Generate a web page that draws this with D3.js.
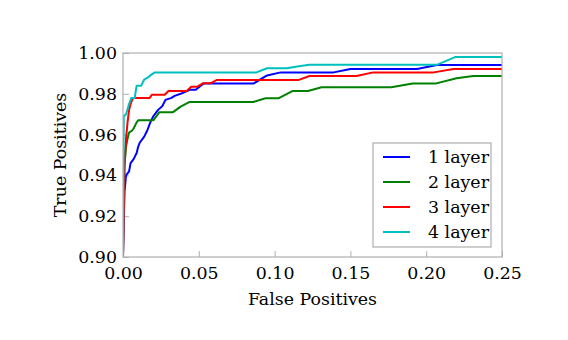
<!DOCTYPE html>
<html>
<head>
<meta charset="utf-8">
<script src="https://cdn.jsdelivr.net/npm/d3@7"></script>
<style>
  body { margin: 0; background: #fff; }
  svg text { font-family: "DejaVu Serif", serif; fill: #000; }
</style>
</head>
<body>
<div id="chart"></div>
<script>
// ROC curves, [false positive rate, true positive rate]
const layer1 = [
  [0, 0.90], [0.001, 0.932], [0.002, 0.940], [0.004, 0.942], [0.005, 0.946], [0.007, 0.948],
  [0.009, 0.951], [0.010, 0.954], [0.011, 0.956], [0.014, 0.959], [0.016, 0.962],
  [0.018, 0.966], [0.020, 0.969], [0.023, 0.972], [0.026, 0.974], [0.028, 0.977],
  [0.032, 0.978], [0.034, 0.979], [0.038, 0.980], [0.044, 0.982], [0.048, 0.982],
  [0.053, 0.985], [0.086, 0.985], [0.095, 0.989], [0.104, 0.9905], [0.139, 0.9905],
  [0.150, 0.9922], [0.194, 0.9922], [0.207, 0.9941], [0.25, 0.9941]
];
const layer2 = [
  [0, 0.90], [0.0005, 0.930], [0.001, 0.945], [0.002, 0.954], [0.003, 0.958],
  [0.004, 0.961], [0.006, 0.962], [0.007, 0.963], [0.009, 0.966], [0.010, 0.967],
  [0.020, 0.967], [0.024, 0.971], [0.033, 0.971], [0.038, 0.9737], [0.044, 0.976],
  [0.086, 0.976], [0.094, 0.9778], [0.1025, 0.9778], [0.112, 0.9814], [0.122, 0.9814],
  [0.131, 0.9832], [0.177, 0.9832], [0.191, 0.985], [0.206, 0.985], [0.220, 0.9876],
  [0.231, 0.9887], [0.25, 0.9887]
];
const layer3 = [
  [0, 0.90], [0.001, 0.945], [0.002, 0.958], [0.003, 0.966], [0.004, 0.972],
  [0.005, 0.975], [0.0066, 0.978], [0.0176, 0.978], [0.019, 0.9795], [0.0275, 0.9795],
  [0.030, 0.9814], [0.042, 0.9814], [0.045, 0.9835], [0.049, 0.9835], [0.053, 0.9852],
  [0.058, 0.9852], [0.062, 0.9868], [0.116, 0.9868], [0.123, 0.9887], [0.154, 0.9887],
  [0.165, 0.9905], [0.205, 0.9905], [0.218, 0.9922], [0.25, 0.9922]
];
const layer4 = [
  [0, 0.90], [0.0005, 0.969], [0.002, 0.970], [0.004, 0.975], [0.0055, 0.978],
  [0.0077, 0.978], [0.009, 0.984], [0.012, 0.984], [0.014, 0.987], [0.0165, 0.988],
  [0.018, 0.989], [0.021, 0.9905], [0.088, 0.9905], [0.095, 0.9925], [0.108, 0.9925],
  [0.116, 0.9935], [0.123, 0.9942], [0.207, 0.9942], [0.219, 0.998], [0.25, 0.998]
];

const seriesNames = ["1 layer", "2 layer", "3 layer", "4 layer"];
const seriesColors = ["#0000ff", "#008000", "#ff0000", "#00bfbf"];
const xTicks = [0, 0.05, 0.10, 0.15, 0.20, 0.25];
const yTicks = [0.90, 0.92, 0.94, 0.96, 0.98, 1.00];

const W = 568, H = 340;
const margin = { top: 53, right: 66, bottom: 83, left: 123 };
const width = W - margin.left - margin.right,
      height = H - margin.top - margin.bottom;
const fontSize = "17.4px";

const svg = d3.select("#chart").append("svg")
    .attr("width", W).attr("height", H);
const g = svg.append("g")
    .attr("transform", `translate(${margin.left},${margin.top})`);

const x = d3.scaleLinear().domain([0, 0.25]).range([0, width]);
const y = d3.scaleLinear().domain([0.90, 1.00]).range([height, 0]);

const spine = "#b0b0b0";

// axes with inward ticks
const xAxis = g.append("g")
    .attr("transform", `translate(0,${height})`)
    .call(d3.axisBottom(x).tickValues(xTicks).tickFormat(d3.format(".2f"))
        .tickSizeInner(-6).tickSizeOuter(0).tickPadding(10));
const yAxis = g.append("g")
    .call(d3.axisLeft(y).tickValues(yTicks).tickFormat(d3.format(".2f"))
        .tickSizeInner(-6).tickSizeOuter(0).tickPadding(6));

[xAxis, yAxis].forEach(a => {
  a.attr("font-family", null).attr("font-size", null);
  a.select(".domain").remove();
  a.selectAll(".tick line").attr("stroke", spine);
  a.selectAll(".tick text")
      .style("font-size", fontSize)
      .attr("fill", "#000");
});

// curves
const line = d3.line().x(d => x(d[0])).y(d => y(d[1]));
g.append("defs").append("clipPath").attr("id", "clip")
  .append("rect").attr("width", width).attr("height", height);

[layer1, layer2, layer3, layer4].forEach((data, i) => {
  g.append("path")
      .datum(data)
      .attr("clip-path", "url(#clip)")
      .attr("fill", "none")
      .attr("stroke", seriesColors[i])
      .attr("stroke-width", 2)
      .attr("stroke-linejoin", "round")
      .attr("d", line);
});

// frame
g.append("rect")
    .attr("width", width).attr("height", height)
    .attr("fill", "none").attr("stroke", spine).attr("stroke-width", 1.2);

// axis titles
svg.append("text")
    .attr("x", margin.left + width / 2).attr("y", 305)
    .attr("text-anchor", "middle").style("font-size", fontSize)
    .text("False Positives");
svg.append("text")
    .attr("transform", `translate(66,${margin.top + height / 2}) rotate(-90)`)
    .attr("text-anchor", "middle").style("font-size", fontSize)
    .text("True Positives");

// legend
const legend = svg.append("g").attr("transform", "translate(373,143)");
legend.append("rect")
    .attr("width", 118).attr("height", 104)
    .attr("fill", "#fff").attr("stroke", spine).attr("stroke-width", 1.2);
seriesNames.forEach((name, i) => {
  const ly = 14 + i * 25;
  legend.append("line")
      .attr("x1", 10).attr("x2", 37).attr("y1", ly).attr("y2", ly)
      .attr("stroke", seriesColors[i]).attr("stroke-width", 2);
  legend.append("text")
      .attr("x", 55).attr("y", ly + 6)
      .style("font-size", fontSize)
      .text(name);
});
</script>
</body>
</html>
